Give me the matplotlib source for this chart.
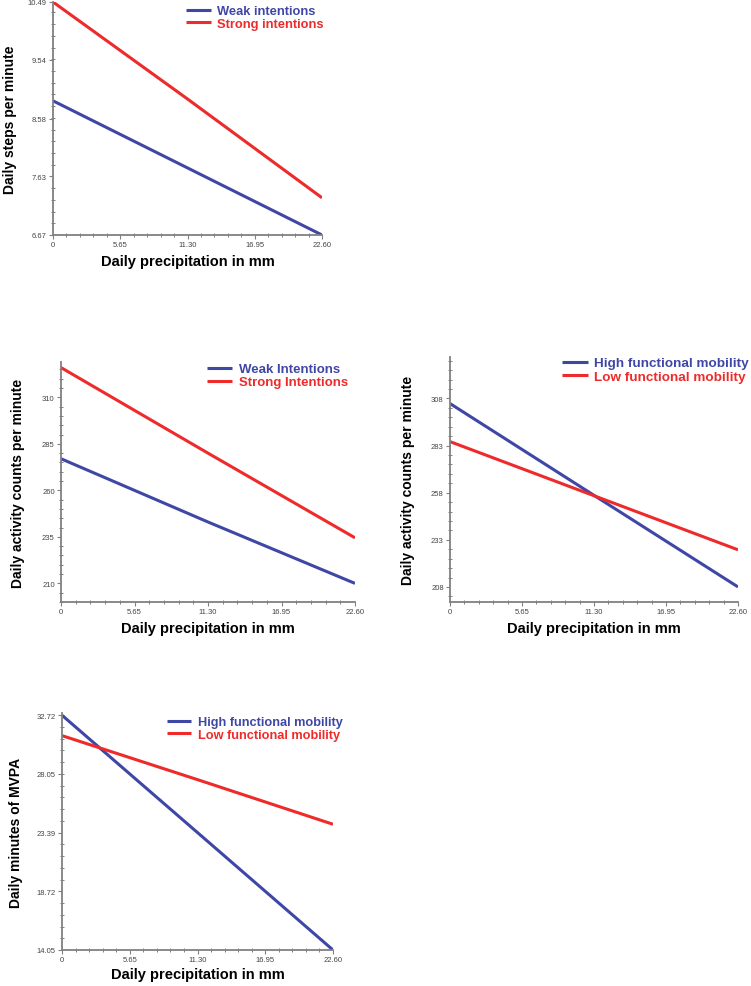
import matplotlib
matplotlib.use('Agg')
import matplotlib.pyplot as plt
from matplotlib.ticker import FixedLocator, AutoMinorLocator

plt.rcParams['font.family'] = ['Liberation Sans', 'DejaVu Sans']

BLUE = '#3f47a6'
RED = '#ee2a2a'
GREY = '#808080'

# precipitation (mm) on the x axis
precip = [0, 11.30, 22.60]
xticks = [0, 5.65, 11.30, 16.95, 22.60]
xticklabels = ['0', '5.65', '11.30', '16.95', '22.60']

# panel 1: steps per minute by intentions
steps_weak = [8.87, 7.77, 6.67]
steps_strong = [10.49, 8.90, 7.28]
steps_ticks = [6.67, 7.63, 8.58, 9.54, 10.49]

# panel 2: activity counts by intentions
counts_weak = [277, 243, 210]
counts_strong = [326, 280, 234.5]
counts_int_ticks = [210, 235, 260, 285, 310]

# panel 3: activity counts by functional mobility
counts_high = [305.3, 256.6, 208]
counts_low = [285.1, 256.4, 227.7]
counts_mob_ticks = [208, 233, 258, 283, 308]

# panel 4: minutes of MVPA by functional mobility
mvpa_high = [32.72, 23.39, 14.05]
mvpa_low = [31.1, 27.6, 24.05]
mvpa_ticks = [14.05, 18.72, 23.39, 28.05, 32.72]

W, H = 751, 987
fig = plt.figure(figsize=(W / 100, H / 100), dpi=100)


def make_axes(left, right, top, bottom):
    return fig.add_axes([left / W, 1 - bottom / H, (right - left) / W, (bottom - top) / H])


def panel(box, ylim, yticks, ylabels, series, labels, ylabel, leg_xy, ylab_x, xlab_y, fs=9.5):
    left, right, top, bottom = box
    ax = make_axes(left, right, top, bottom)
    ax.plot(precip, series[0], color=BLUE, lw=2.2, label=labels[0], solid_capstyle='butt')
    ax.plot(precip, series[1], color=RED, lw=2.2, label=labels[1], solid_capstyle='butt')
    ax.set_xlim(0, 22.6)
    ax.set_ylim(*ylim)
    for s in ['top', 'right']:
        ax.spines[s].set_visible(False)
    for s in ['left', 'bottom']:
        ax.spines[s].set_color(GREY)
        ax.spines[s].set_linewidth(1.3)
    ax.xaxis.set_major_locator(FixedLocator(xticks))
    ax.set_xticklabels(xticklabels)
    ax.yaxis.set_major_locator(FixedLocator(yticks))
    ax.set_yticklabels(ylabels)
    ax.xaxis.set_minor_locator(AutoMinorLocator(5))
    ax.yaxis.set_minor_locator(AutoMinorLocator(5))
    ax.tick_params(which='major', length=3, width=0.8, color=GREY, labelsize=5.5,
                   labelcolor='#444444', pad=1.5)
    ax.tick_params(which='minor', length=2.5, width=0.7, color=GREY, direction='inout')
    w = right - left
    h = bottom - top
    # label coords: top edge of x label, right edge of y label
    ax.set_xlabel('Daily precipitation in mm', fontsize=10.5, fontweight='bold')
    ax.xaxis.set_label_coords(0.5, -(xlab_y - 7 - bottom) / h)
    ax.set_ylabel(ylabel, fontsize=10, fontweight='bold')
    ax.yaxis.set_label_coords((ylab_x + 7 - left) / w, 0.5)
    leg = ax.legend(loc='upper left', bbox_to_anchor=(leg_xy[0] / W, 1 - leg_xy[1] / H),
                    bbox_transform=fig.transFigure, frameon=False, borderpad=0,
                    handlelength=1.9, handletextpad=0.5, labelspacing=0.05,
                    borderaxespad=0, prop={'weight': 'bold', 'size': fs})
    for line, text in zip(leg.get_lines(), leg.get_texts()):
        line.set_linewidth(2.2)
        text.set_color(line.get_color())
    return ax


panel((53, 322, 3, 236), (6.67, 10.49), steps_ticks,
      ['6.67', '7.63', '8.58', '9.54', '10.49'],
      [steps_weak, steps_strong], ['Weak intentions', 'Strong intentions'],
      'Daily steps per minute', (186, 6), 10, 262, fs=9.3)

panel((61, 355, 363, 603), (200, 329), counts_int_ticks,
      [str(v) for v in counts_int_ticks],
      [counts_weak, counts_strong], ['Weak Intentions', 'Strong Intentions'],
      'Daily activity counts per minute', (207, 364), 18, 629, fs=9.5)

panel((450, 738, 358, 603), (200, 330), counts_mob_ticks,
      [str(v) for v in counts_mob_ticks],
      [counts_high, counts_low], ['High functional mobility', 'Low functional mobility'],
      'Daily activity counts per minute', (562, 358), 408, 629, fs=9.7)

panel((62, 333, 714, 951), (14.05, 32.9), mvpa_ticks,
      ['14.05', '18.72', '23.39', '28.05', '32.72'],
      [mvpa_high, mvpa_low], ['High functional mobility', 'Low functional mobility'],
      'Daily minutes of MVPA', (167, 717), 16, 975, fs=9.2)

fig.savefig('out.png', dpi=100)
